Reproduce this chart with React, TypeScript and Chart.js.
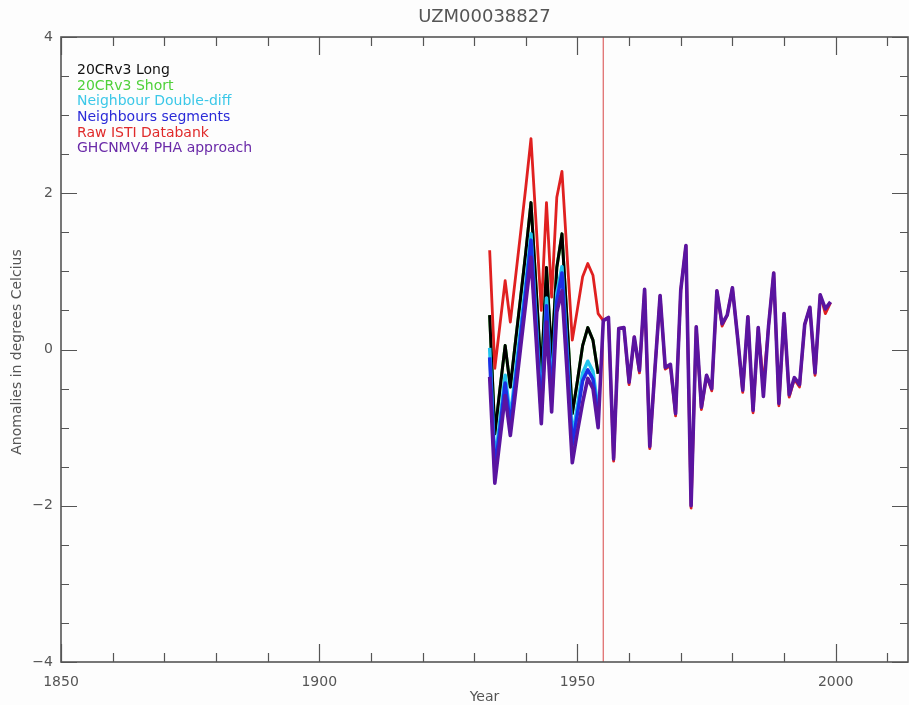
import React, { useEffect, useRef } from 'react';
import { Chart, registerables } from 'chart.js';

Chart.register(...registerables);

const chartTitle = 'UZM00038827';
const xAxisTitle = 'Year';
const yAxisTitle = 'Anomalies in degrees Celcius';

const seriesNames = [
  '20CRv3 Long',
  '20CRv3 Short',
  'Neighbour Double-diff',
  'Neighbours segments',
  'Raw ISTI Databank',
  'GHCNMV4 PHA approach',
];

// Years covered by the segment-based series
const segmentYears = [
  1933, 1934, 1935, 1936, 1937, 1938, 1939, 1940, 1941, 1942, 1943,
  1944, 1945, 1946, 1947, 1948, 1949, 1950, 1951, 1952, 1953, 1954,
];

// Years covered by the full series
const fullYears = [
  1933, 1934, 1935, 1936, 1937, 1938, 1939, 1940, 1941, 1942, 1943,
  1944, 1945, 1946, 1947, 1948, 1949, 1950, 1951, 1952, 1953, 1954,
  1955, 1956, 1957, 1958, 1959, 1960, 1961, 1962, 1963, 1964, 1965,
  1966, 1967, 1968, 1969, 1970, 1971, 1972, 1973, 1974, 1975, 1976,
  1977, 1978, 1979, 1980, 1981, 1982, 1983, 1984, 1985, 1986, 1987,
  1988, 1989, 1990, 1991, 1992, 1993, 1994, 1995, 1996, 1997, 1998, 1999,
];

const cr20Long = [
  0.44, -1.08, -0.5, 0.05, -0.48, 0.1, 0.67, 1.25, 1.88, 0.78, -0.33,
  1.05, -0.1, 1.05, 1.48, 0.35, -0.82, -0.4, 0.05, 0.28, 0.12, -0.31,
];

const cr20Short = [
  0.44, -1.08, -0.5, 0.05, -0.48, 0.1, 0.67, 1.25, 1.88, 0.78, -0.33,
  1.05, -0.1, 1.05, 1.48, 0.35, -0.82, -0.4, 0.05, 0.28, 0.12, -0.31,
];

const neighbourDoubleDiff = [
  0.02, -1.45, -0.9, -0.33, -0.87, -0.3, 0.28, 0.85, 1.48, 0.38, -0.72,
  0.66, -0.55, 0.72, 1.06, -0.02, -1.12, -0.72, -0.3, -0.15, -0.28, -0.76,
];

const neighbourSegments = [
  -0.1, -1.55, -1.0, -0.43, -0.97, -0.4, 0.18, 0.75, 1.4, 0.28, -0.82,
  0.56, -0.65, 0.62, 0.98, -0.12, -1.22, -0.82, -0.4, -0.26, -0.38, -0.85,
];

const rawIsti = [
  1.27, -0.24, 0.32, 0.88, 0.35, 0.92, 1.5, 2.08, 2.7, 1.6, 0.5,
  1.88, 0.67, 1.95, 2.28, 1.2, 0.12, 0.52, 0.93, 1.1, 0.95, 0.46,
  0.37, 0.41, -1.43, 0.27, 0.28, -0.45, 0.16, -0.3, 0.77, -1.27, -0.25,
  0.69, -0.25, -0.21, -0.85, 0.76, 1.33, -2.03, 0.29, -0.77, -0.33, -0.53,
  0.75, 0.3, 0.44, 0.79, 0.16, -0.55, 0.42, -0.81, 0.28, -0.45, 0.3,
  0.98, -0.72, 0.46, -0.61, -0.38, -0.48, 0.32, 0.54, -0.33, 0.7, 0.46, 0.6,
];

const ghcnPha = [
  -0.35, -1.71, -1.15, -0.59, -1.1, -0.55, 0.03, 0.6, 1.18, 0.13, -0.95,
  0.35, -0.8, 0.48, 0.75, -0.3, -1.45, -1.05, -0.68, -0.37, -0.5, -1.0,
  0.37, 0.41, -1.4, 0.27, 0.28, -0.42, 0.16, -0.27, 0.77, -1.24, -0.25,
  0.69, -0.23, -0.19, -0.82, 0.76, 1.33, -2.0, 0.29, -0.74, -0.33, -0.5,
  0.75, 0.33, 0.44, 0.79, 0.16, -0.52, 0.42, -0.78, 0.28, -0.6, 0.3,
  0.98, -0.69, 0.46, -0.58, -0.36, -0.45, 0.32, 0.54, -0.3, 0.7, 0.52, 0.61,
];

const xTickValues = [1850, 1900, 1950, 2000];
const yTickValues = [-4, -2, 0, 2, 4];
const xMin = 1850;
const xMax = 2014;
const yMin = -4;
const yMax = 4;
const breakYear = 1955;

const lineColors = ['#000000', '#33cc33', '#22c4ee', '#1c2ee6', '#e02020', '#5a14a0'];
const legendColors = ['#111111', '#4fd13a', '#3cc8e8', '#2a2ad8', '#e02a2a', '#6a2aa8'];

const FONT = '"DejaVu Sans", sans-serif';
const TEXT = '#555555';
const AXIS = '#555555';

const toPoints = (xs: number[], ys: number[]) => xs.map((x, i) => ({ x, y: ys[i] }));

const framePlugin = {
  id: 'frame',
  beforeDatasetsDraw(chart: any) {
    const { ctx, chartArea, scales } = chart;
    const bx = scales.x.getPixelForValue(breakYear);
    ctx.save();
    ctx.strokeStyle = '#e07070';
    ctx.lineWidth = 1.3;
    ctx.beginPath();
    ctx.moveTo(bx, chartArea.top);
    ctx.lineTo(bx, chartArea.bottom);
    ctx.stroke();
    ctx.restore();
  },
  afterDraw(chart: any) {
    const { ctx, chartArea, scales } = chart;
    const { left, right, top, bottom } = chartArea;
    ctx.save();
    ctx.strokeStyle = AXIS;
    ctx.lineWidth = 1.6;
    ctx.strokeRect(left, top, right - left, bottom - top);
    ctx.lineWidth = 1.2;
    ctx.beginPath();
    for (let v = xMin; v <= xMax; v += 10) {
      const px = Math.round(scales.x.getPixelForValue(v)) + 0.5;
      const len = v % 50 === 0 ? 18 : 9;
      ctx.moveTo(px, bottom);
      ctx.lineTo(px, bottom - len);
      ctx.moveTo(px, top);
      ctx.lineTo(px, top + len);
    }
    for (let v = yMin; v <= yMax; v += 0.5) {
      const py = Math.round(scales.y.getPixelForValue(v)) + 0.5;
      const len = v % 2 === 0 ? 16 : 8;
      ctx.moveTo(left, py);
      ctx.lineTo(left + len, py);
      ctx.moveTo(right, py);
      ctx.lineTo(right - len, py);
    }
    ctx.stroke();

    // title
    ctx.fillStyle = TEXT;
    ctx.textAlign = 'center';
    ctx.textBaseline = 'middle';
    ctx.font = `18px ${FONT}`;
    ctx.fillText(chartTitle, (left + right) / 2, 17);

    // axis titles
    ctx.font = `14px ${FONT}`;
    ctx.fillText(xAxisTitle, (left + right) / 2, 697);
    ctx.save();
    ctx.translate(17, 352);
    ctx.rotate(-Math.PI / 2);
    ctx.fillText(yAxisTitle, 0, 0);
    ctx.restore();

    // legend
    ctx.textAlign = 'left';
    ctx.font = `14px ${FONT}`;
    seriesNames.forEach((name, i) => {
      ctx.fillStyle = legendColors[i];
      ctx.fillText(name, 77, 70.5 + i * 15.6);
    });
    ctx.restore();
  },
};

export default function App() {
  const canvasRef = useRef<HTMLCanvasElement | null>(null);

  useEffect(() => {
    if (!canvasRef.current) return;
    const mk = (i: number, xs: number[], ys: number[], width: number, order: number) => ({
      label: seriesNames[i],
      data: toPoints(xs, ys),
      borderColor: lineColors[i],
      backgroundColor: lineColors[i],
      borderWidth: width,
      pointRadius: 0,
      tension: 0,
      fill: false,
      order,
      borderJoinStyle: 'round',
    });
    const chart = new Chart(canvasRef.current, {
      type: 'line',
      data: {
        datasets: [
          mk(0, segmentYears, cr20Long, 3, 4),
          mk(1, segmentYears, cr20Short, 3, 5),
          mk(2, segmentYears, neighbourDoubleDiff, 3.5, 3),
          mk(3, segmentYears, neighbourSegments, 3.5, 2),
          mk(4, fullYears, rawIsti, 2.8, 1),
          mk(5, fullYears, ghcnPha, 3.6, 0),
        ] as any,
      },
      options: {
        responsive: false,
        animation: false,
        layout: { padding: { top: 37, right: 1, left: 0, bottom: 0 } },
        plugins: {
          legend: { display: false },
          title: { display: false },
          tooltip: { enabled: false },
        },
        scales: {
          x: {
            type: 'linear',
            min: xMin,
            max: xMax,
            afterBuildTicks: (s: any) => {
              s.ticks = xTickValues.map((v) => ({ value: v }));
            },
            afterFit: (s: any) => {
              s.height = 43;
            },
            grid: { display: false, drawTicks: false },
            border: { display: false },
            ticks: {
              color: TEXT,
              font: { family: FONT, size: 14 },
              padding: 12,
              maxRotation: 0,
              autoSkip: false,
              callback: (v: any) => String(v),
            },
          },
          y: {
            type: 'linear',
            min: yMin,
            max: yMax,
            afterBuildTicks: (s: any) => {
              s.ticks = yTickValues.map((v) => ({ value: v }));
            },
            afterFit: (s: any) => {
              s.width = 61;
            },
            grid: { display: false, drawTicks: false },
            border: { display: false },
            ticks: {
              color: TEXT,
              font: { family: FONT, size: 14 },
              padding: 8,
              autoSkip: false,
              callback: (v: any) => (Number(v) < 0 ? '\u2212' + Math.abs(Number(v)) : String(v)),
            },
          },
        },
      } as any,
      plugins: [framePlugin],
    });
    return () => chart.destroy();
  }, []);

  return (
    <div
      style={{
        position: 'fixed',
        left: 0,
        top: 0,
        width: 909,
        height: 705,
        background: '#fdfdfd',
      }}
    >
      <canvas ref={canvasRef} width={909} height={705} style={{ display: 'block' }} />
    </div>
  );
}
